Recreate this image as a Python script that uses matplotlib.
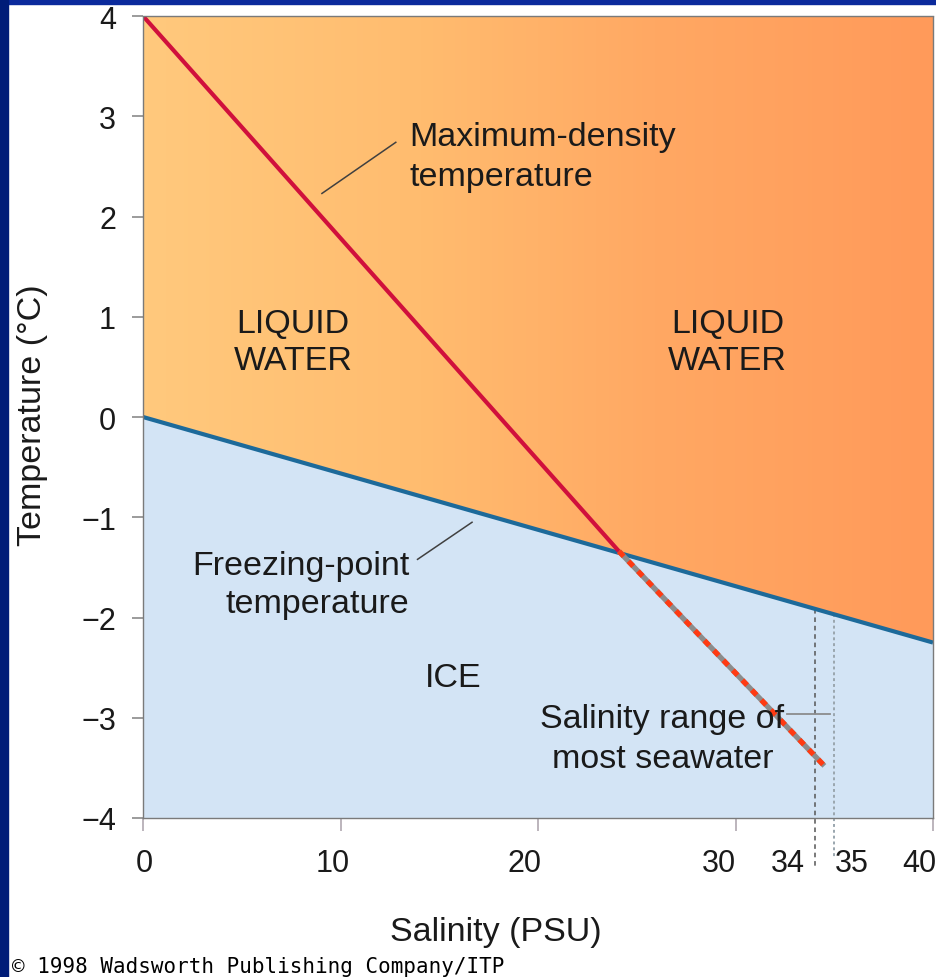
import numpy as np
import matplotlib
matplotlib.use("Agg")
import matplotlib.pyplot as plt
from matplotlib.patches import Polygon, Rectangle
from matplotlib.colors import LinearSegmentedColormap
import matplotlib.transforms as mtransforms

plt.rcParams['font.family'] = ['Liberation Sans', 'DejaVu Sans']

# Freezing-point temperature vs salinity
freeze_S = [0, 40]
freeze_T = [0.0, -2.25]

# Temperature of maximum density vs salinity (solid part, then below-freezing part)
maxdens_S = [0, 24.1]
maxdens_T = [4.0, -1.34]
maxdens_ext_S = [24.1, 34.5]
maxdens_ext_T = [-1.34, -3.48]

# Salinity range of most seawater
seawater_range = [34, 35]

# Axis ticks and labels
x_ticks = [0, 10, 20, 30, 40]
x_label_text = ['0', '10', '20', '30', '34', '35', '40']
x_label_pos = [0.05, 9.6, 19.3, 29.15, 32.65, 35.9, 39.3]
y_ticks = [4, 3, 2, 1, 0, -1, -2, -3, -4]
y_tick_text = ['4', '3', '2', '1', '0', '\u22121', '\u22122', '\u22123', '\u22124']

W, H = 936, 978
fig = plt.figure(figsize=(W / 100, H / 100), dpi=100)
fig.patch.set_facecolor('white')

# dark blue slide border
fig.add_artist(Rectangle((0, 1 - 5 / H), 1, 5 / H, transform=fig.transFigure,
                         color='#0B2A9C', zorder=0))
fig.add_artist(Rectangle((0, 0), 8 / W, 1, transform=fig.transFigure,
                         color='#001C78', zorder=0))

left, right, top, bottom = 143, 933, 17, 819
ax = fig.add_axes([left / W, 1 - bottom / H, (right - left) / W, (bottom - top) / H])
ax.set_xlim(0, 40)
ax.set_ylim(-4, 4)

# ice region below freezing line
ax.fill_between(freeze_S, freeze_T, -4, color='#D3E4F5', zorder=1, lw=0)

# liquid region above freezing line, orange gradient toward high salinity
cmap = LinearSegmentedColormap.from_list(
    'liq', [(0, '#FFC97D'), (0.35, '#FFBC6F'), (0.65, '#FFA863'), (1, '#FF9A5A')])
grad = np.linspace(0, 1, 256).reshape(1, -1)
im = ax.imshow(grad, extent=[0, 40, -4, 4], aspect='auto', cmap=cmap,
               origin='lower', zorder=1, interpolation='bilinear')
liquid = Polygon([(freeze_S[0], freeze_T[0]), (freeze_S[1], freeze_T[1]),
                  (40, 4), (0, 4)], closed=True, transform=ax.transData,
                 facecolor='none', edgecolor='none')
ax.add_patch(liquid)
im.set_clip_path(liquid)

# freezing-point line
ax.plot(freeze_S, freeze_T, color='#1D6A9A', lw=3.0, zorder=4,
        solid_capstyle='butt')

# maximum-density line
ax.plot(maxdens_S, maxdens_T, color='#D0103C', lw=3.0, zorder=5,
        solid_capstyle='butt')
ax.plot(maxdens_ext_S, maxdens_ext_T, color='#8C8C8C', lw=3.8, zorder=5,
        solid_capstyle='butt')
ax.plot(maxdens_ext_S, maxdens_ext_T, color='#FF3A12', lw=3.8, zorder=6,
        linestyle=(0, (1.3, 1.3)), dash_capstyle='butt')

# seawater salinity range markers
fT = np.interp(seawater_range, freeze_S, freeze_T)
ax.plot([seawater_range[0]] * 2, [fT[0], -4.48], color='#555555', lw=1.1,
        linestyle=(0, (3, 2.5)), zorder=3, clip_on=False)
ax.plot([seawater_range[1]] * 2, [fT[1], -4.4], color='#9AA6AE', lw=1.4,
        linestyle=(0, (1.5, 1.5)), zorder=3, clip_on=False)
ax.plot([32.6, 34.8], [-2.96, -2.96], color='#8C8C8C', lw=1.3, zorder=3)

# annotation leaders
ax.plot([9.06, 12.8], [2.23, 2.74], color='#404040', lw=1.1, zorder=6)
ax.plot([13.9, 16.66], [-1.42, -1.05], color='#404040', lw=1.1, zorder=6)

fs = 24.5
tc = '#1A1A1A'
ls = 1.36
ax.text(13.5, 2.60, 'Maximum-density\ntemperature', ha='left', va='center',
        fontsize=fs, color=tc, linespacing=ls, zorder=7)
ax.text(7.6, 0.75, 'LIQUID\nWATER', ha='center', va='center', fontsize=fs,
        color=tc, linespacing=1.24, zorder=7)
ax.text(29.6, 0.75, 'LIQUID\nWATER', ha='center', va='center', fontsize=fs,
        color=tc, linespacing=1.24, zorder=7)
ax.text(13.5, -1.67, 'Freezing-point\ntemperature', ha='right', va='center',
        fontsize=fs, color=tc, linespacing=1.32, zorder=7)
ax.text(15.7, -2.6, 'ICE', ha='center', va='center', fontsize=fs, color=tc,
        zorder=7)
ax.text(26.3, -3.21, 'Salinity range of\nmost seawater', ha='center',
        va='center', fontsize=fs, color=tc, linespacing=ls, zorder=7)

# axes frame and ticks
for sp in ax.spines.values():
    sp.set_color('#7A7A7A')
    sp.set_linewidth(1.0)
    sp.set_linestyle((0, (1, 1)))
    sp.set_zorder(8)
ax.set_yticks(y_ticks)
ax.set_yticklabels(y_tick_text, fontsize=22, color=tc)
ax.set_xticks(x_ticks)
ax.set_xticklabels([])
ax.tick_params(axis='y', length=8, width=1.2, color='#8A8A8A', pad=11.5)
ax.tick_params(axis='x', length=9.5, width=1.2, color='#B0A8B0', pad=0)

xtrans = mtransforms.blended_transform_factory(ax.transData, ax.transAxes)
for pos, txt in zip(x_label_pos, x_label_text):
    ax.text(pos, -0.056, txt, transform=xtrans, ha='center', va='center',
            fontsize=22, color=tc, clip_on=False)

fig.text(33 / W, 1 - 415 / H, 'Temperature (\u00b0C)', rotation=90,
         ha='center', va='center', fontsize=24.5, color=tc)
fig.text(496 / W, 1 - 933 / H, 'Salinity (PSU)', ha='center', va='center',
         fontsize=24.5, color=tc)
fig.text(12 / W, 1 - 967 / H, '\u00a9 1998 Wadsworth Publishing Company/ITP',
         ha='left', va='center', fontsize=15, color='black',
         family='DejaVu Sans Mono')

fig.savefig('out.png', dpi=100, facecolor=fig.get_facecolor())
